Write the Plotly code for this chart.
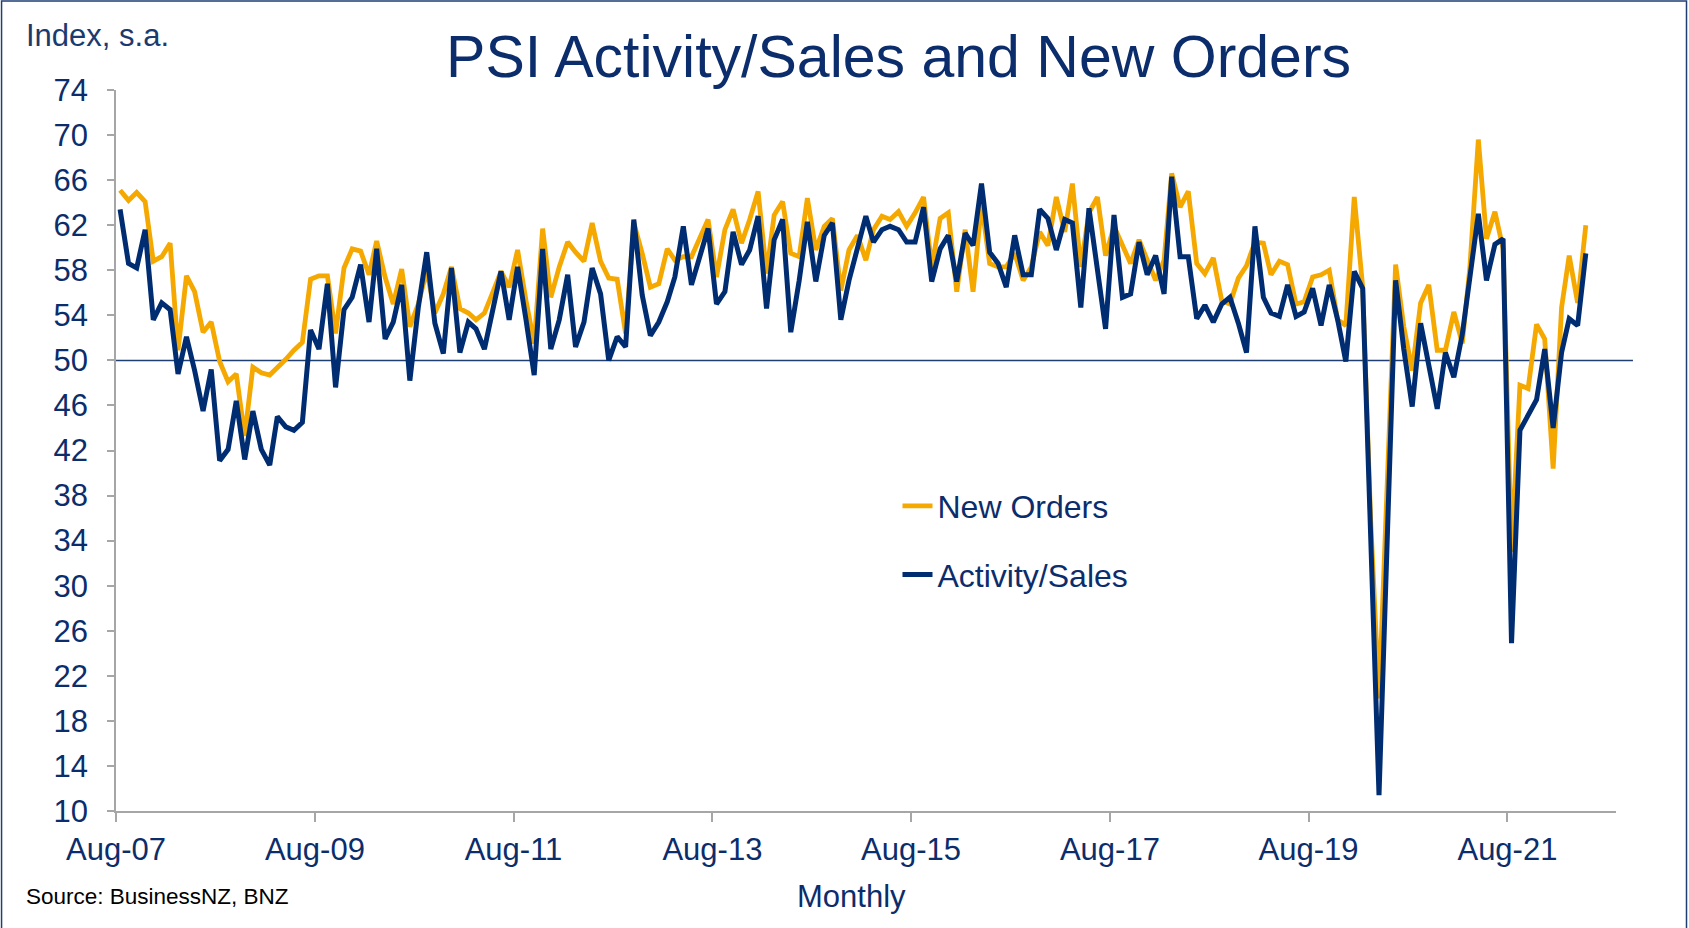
import pandas as pd
import plotly.graph_objects as go

# ---- data (monthly, Aug-07 .. May-22) ----
start_month = "2007-08-01"

new_orders = [
    65.1, 64.2, 64.9, 64.1, 58.8, 59.2, 60.4, 50.9, 57.5, 56.1, 52.5, 53.4,
    49.9, 48.1, 48.8, 43.3, 49.4, 48.9, 48.7, 49.3, 50.1, 50.9, 51.6, 57.2,
    57.5, 57.5, 52.4, 58.2, 59.9, 59.7, 57.6, 60.6, 57.4, 55.0, 58.1, 53.0,
    55.0, 58.0, 54.2, 55.9, 58.3, 54.6, 54.2, 53.6, 54.2, 56.0, 57.9, 56.5,
    59.8, 55.3, 51.5, 61.7, 55.6, 58.3, 60.5, 59.6, 58.8, 62.2, 58.8, 57.3,
    57.2, 52.4, 62.2, 59.5, 56.5, 56.8, 59.9, 58.9, 59.2, 59.2, 61.0, 62.5,
    57.4, 61.6, 63.4, 60.4, 62.5, 65.0, 57.7, 62.9, 64.1, 59.5, 59.2, 64.4,
    59.8, 61.9, 62.6, 56.2, 59.8, 61.1, 58.9, 61.6, 62.8, 62.5, 63.2, 61.9,
    63.1, 64.5, 58.3, 62.6, 63.1, 56.1, 61.6, 56.1, 63.9, 58.6, 58.3, 58.3,
    59.5, 57.1, 58.3, 61.4, 60.2, 64.5, 61.4, 65.7, 58.3, 63.1, 64.5, 59.3,
    61.9, 60.2, 58.6, 60.7, 58.9, 57.1, 58.9, 66.6, 63.6, 65.0, 58.6, 57.7,
    59.1, 55.3, 55.0, 57.3, 58.4, 60.5, 60.4, 57.6, 58.8, 58.5, 55.0, 55.2,
    57.4, 57.6, 58.0, 53.6, 53.1, 64.5, 56.5, 36.0, 20.0, 40.0, 58.5, 53.0,
    49.1, 55.1, 56.7, 50.9, 50.9, 54.3, 51.5, 58.3, 69.6, 60.8, 63.2, 59.9,
    33.0, 47.8, 47.5, 53.2, 51.9, 40.4, 54.7, 59.3, 55.1, 62.0,
]

activity_sales = [
    63.4, 58.6, 58.2, 61.6, 53.6, 55.1, 54.5, 48.8, 52.1, 49.1, 45.5, 49.2,
    41.1, 42.1, 46.4, 41.2, 45.5, 42.1, 40.7, 45.0, 44.1, 43.8, 44.5, 52.7,
    51.0, 56.8, 47.6, 54.5, 55.6, 58.5, 53.4, 59.9, 51.9, 53.4, 56.7, 48.2,
    54.7, 59.6, 53.3, 50.6, 58.2, 50.7, 53.4, 52.8, 51.0, 54.5, 57.9, 53.6,
    58.3, 53.6, 48.7, 59.9, 51.0, 53.6, 57.6, 51.2, 53.4, 58.2, 55.9, 50.0,
    52.1, 51.2, 62.5, 55.8, 52.2, 53.4, 55.2, 57.4, 61.9, 56.7, 59.2, 61.7,
    55.0, 56.1, 61.4, 58.5, 59.8, 62.8, 54.6, 60.7, 62.5, 52.5, 57.1, 62.3,
    57.0, 61.1, 62.2, 53.6, 57.1, 60.1, 62.8, 60.5, 61.6, 61.9, 61.6, 60.5,
    60.5, 63.6, 57.0, 59.9, 61.1, 57.0, 61.3, 60.2, 65.7, 59.6, 58.6, 56.5,
    61.1, 57.6, 57.6, 63.4, 62.6, 59.8, 62.5, 62.2, 54.7, 63.5, 58.2, 52.8,
    62.9, 55.6, 55.9, 60.5, 57.6, 59.3, 55.9, 66.3, 59.2, 59.2, 53.7, 54.9,
    53.4, 55.0, 55.6, 53.3, 50.7, 61.9, 55.6, 54.2, 53.9, 56.7, 53.9, 54.3,
    56.4, 53.1, 56.7, 53.6, 49.9, 57.9, 56.4, 34.0, 11.4, 34.0, 57.1, 51.0,
    45.9, 53.3, 49.7, 45.7, 50.7, 48.5, 52.3, 57.1, 63.0, 57.1, 60.3, 60.8,
    24.9, 43.8, 45.2, 46.5, 51.0, 44.0, 50.7, 53.7, 53.1, 59.5,
]

series_names = ["New Orders", "Activity/Sales"]
y_ticks = list(range(10, 75, 4))
threshold = 50

# ---- styling ----
NAVY = "#0c2d6b"
ORANGE = "#f5a800"
BLUE = "#002d72"
GRAY = "#a6a6a6"
FONT = "Liberation Sans, Arial, sans-serif"

months = pd.date_range(start_month, periods=len(activity_sales), freq="MS")
x_mid = months + pd.Timedelta(days=15)

fig = go.Figure()
fig.add_trace(go.Scatter(x=x_mid, y=new_orders, name=series_names[0], mode="lines",
                         line=dict(color=ORANGE, width=4.8), legendgroup="a"))
fig.add_trace(go.Scatter(x=x_mid, y=activity_sales, name=series_names[1], mode="lines",
                         line=dict(color=BLUE, width=5), legendgroup="b"))

# 50 reference line
fig.add_shape(type="line", xref="paper", yref="y", x0=0, x1=1.0113, y0=threshold, y1=threshold,
              line=dict(color="#1f3f73", width=1.5), layer="below")

# outer frame (top, left, right)
fig.add_shape(type="path", xref="paper", yref="paper",
              path="M -0.0763,-0.165 L -0.0763,1.1234 L 1.047,1.1234 L 1.047,-0.165",
              line=dict(color="#1f3f73", width=1.5))

fig.update_layout(
    width=1689, height=928,
    margin=dict(l=116, r=73, t=90, b=117),
    paper_bgcolor="white", plot_bgcolor="white",
    font=dict(family=FONT, color=NAVY),
    title=dict(text="PSI Activity/Sales and New Orders", x=0.532, xanchor="center",
               y=0.9395, yanchor="middle", xref="container", yref="container",
               font=dict(size=59, color=NAVY, family=FONT)),
    showlegend=True,
    legend=dict(x=0.521, y=0.461, xanchor="left", yanchor="top",
                font=dict(size=32, color=NAVY, family=FONT),
                bgcolor="rgba(0,0,0,0)", tracegroupgap=24, traceorder="grouped"),
)

fig.update_xaxes(
    type="date",
    range=["2007-08-01", "2022-09-04"],
    tick0="2007-08-01", dtick="M24", tickformat="%b-%y",
    showline=True, linecolor=GRAY, linewidth=1.5,
    ticks="outside", ticklen=9, tickcolor=GRAY, tickwidth=1.5,
    showgrid=False, zeroline=False,
    tickfont=dict(size=31, color=NAVY, family=FONT),
    ticklabelstandoff=1,
)
fig.update_yaxes(
    range=[10, 74], tickvals=y_ticks,
    showline=True, linecolor=GRAY, linewidth=1.5,
    ticks="outside", ticklen=7, tickcolor=GRAY, tickwidth=1.5,
    showgrid=False, zeroline=False,
    tickfont=dict(size=31, color=NAVY, family=FONT),
    ticklabelstandoff=13,
)

fig.add_annotation(text="Index, s.a.", xref="paper", yref="paper", x=-0.0613, y=1.0755,
                   xanchor="left", yanchor="middle", showarrow=False,
                   font=dict(size=31, color="#1c3a6e", family=FONT))
fig.add_annotation(text="Monthly", xref="paper", yref="paper", x=0.49, y=-0.119,
                   xanchor="center", yanchor="middle", showarrow=False,
                   font=dict(size=31, color=NAVY, family=FONT))
fig.add_annotation(text="Source: BusinessNZ, BNZ", xref="paper", yref="paper", x=-0.0613, y=-0.118,
                   xanchor="left", yanchor="middle", showarrow=False,
                   font=dict(size=22.5, color="#000000", family=FONT))

fig.write_html("out.html", config={"displayModeBar": False},
               post_script="document.body.style.margin='0px';")
